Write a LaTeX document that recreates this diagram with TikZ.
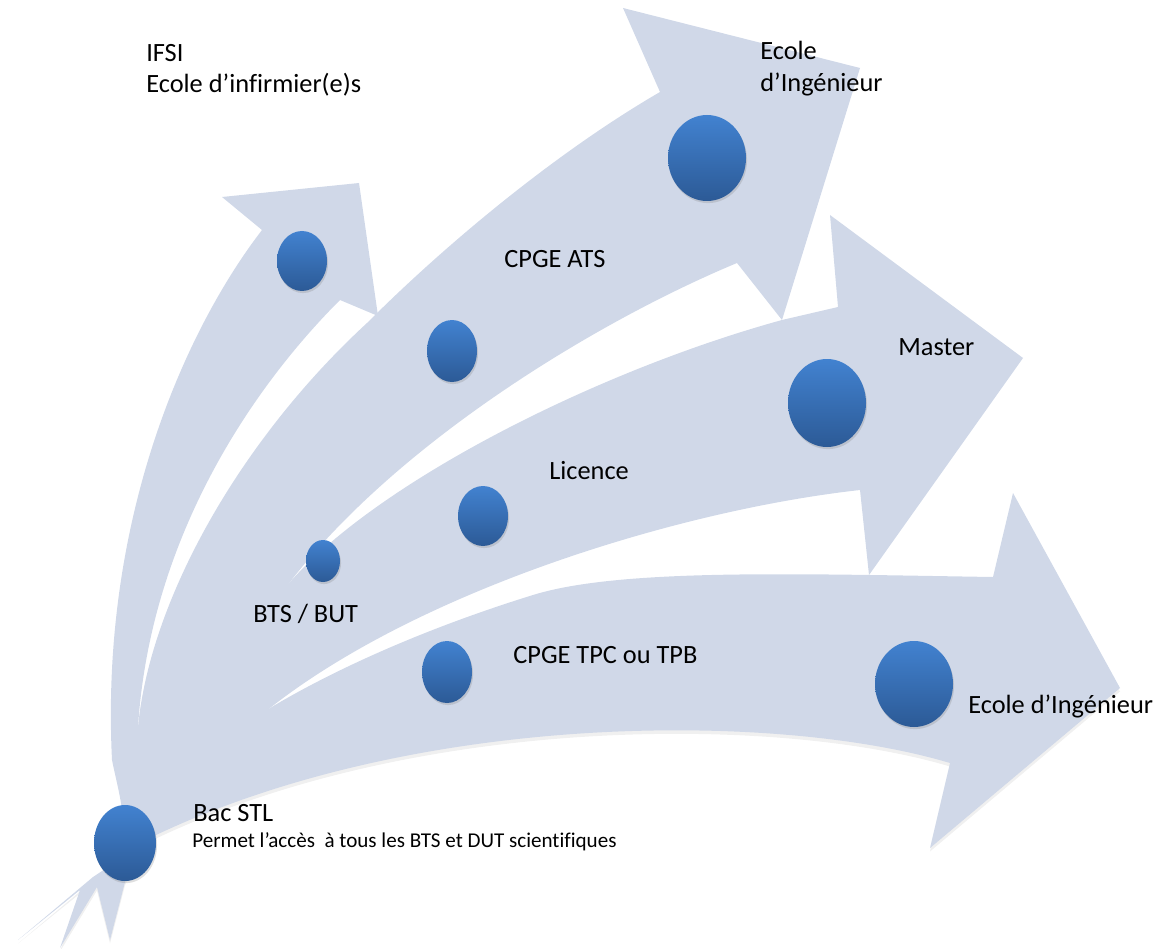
\documentclass[tikz,border=0pt]{standalone}
\usepackage{fontspec}
\setmainfont{Carlito}[Ligatures=NoCommon]
\usepackage{tikz}
\usetikzlibrary{shapes.geometric,shadows,positioning}

\definecolor{flechebleu}{RGB}{208,216,232}
\definecolor{bouletop}{RGB}{66,130,208}
\definecolor{bouleba}{RGB}{44,90,150}

\begin{document}
\begin{tikzpicture}[
    x=0.02cm, y=-0.02cm,
    font=\fontsize{15}{18}\selectfont,
    fleche/.style={
		fill=flechebleu
	},
    boule/.style 2 args={
		ellipse,
		minimum width=#1*0.02cm,
		minimum height=#2*0.02cm,
		inner sep=0pt,
		top color=bouletop,
		bottom color=bouleba,
		drop shadow={opacity=0.25, shadow xshift=0.6pt, shadow yshift=-1.2pt}
	},
    etiquette/.style={
		anchor=base west,
		inner sep=0pt
	},
    petit/.style={
		etiquette,
		font=\fontsize{12}{14}\selectfont
	}
  ]
  \useasboundingbox (0,0) rectangle (1162,949);

  % the four arrows, lowest first
  \fill[fleche, drop shadow={opacity=0.12, shadow xshift=0pt, shadow yshift=-2pt}]
    (140,850) .. controls (180,780) and (220,740) .. (270,708)
    .. controls (330,672) and (420,630) .. (533,595)
    .. controls (620,568) and (800,574) .. (993,577)
    -- (1013,493) -- (1120,688) -- (930,848) -- (950,763)
    .. controls (780,712) and (420,710) .. (156,835)
    -- (93,877) -- (18,940) -- (80,890) -- (60,948) -- (97,887) -- (110,940) -- (125,882) -- cycle;

  \fill[fleche]
    (130,860) .. controls (170,740) and (220,640) .. (290,582)
    .. controls (380,480) and (600,370) .. (782,320)
    -- (838,307) -- (830,215) -- (1023,358) -- (869,575) -- (860,490)
    .. controls (680,510) and (420,590) .. (270,708)
    .. controls (210,760) and (170,810) .. (140,860) -- cycle;

  \fill[fleche]
    (115,860) .. controls (125,810) and (132,770) .. (138,727)
    .. controls (150,600) and (240,440) .. (367,323)
    .. controls (450,240) and (560,150) .. (660,92)
    -- (623,8) -- (860,68) -- (782,320) -- (737,263)
    .. controls (600,320) and (400,440) .. (290,582)
    .. controls (220,670) and (170,770) .. (145,860) -- cycle;

  \fill[fleche]
    (122,860) .. controls (128,820) and (118,790) .. (112,760)
    .. controls (100,520) and (185,330) .. (262,230)
    -- (222,197) -- (359,183) -- (378,316) -- (340,300)
    .. controls (250,390) and (150,540) .. (138,727)
    .. controls (140,780) and (145,820) .. (150,860) -- cycle;

  % the dots
  \node[boule={62}{76}] (bac) at (125,843) {};
  \node[boule={50}{60}] (ifsi) at (302,261) {};
  \node[boule={34}{42}] (bts) at (323,561) {};
  \node[boule={50}{62}] (ats) at (452,351) {};
  \node[boule={50}{60}] (licence) at (483,516) {};
  \node[boule={50}{62}] (tpc) at (447,672) {};
  \node[boule={78}{86}] (ingehaut) at (707,158) {};
  \node[boule={78}{88}] (master) at (827,403) {};
  \node[boule={78}{86}] (ingebas) at (914,684) {};

  % the texts
  \node[etiquette] (tifsi) at (146,62) {IFSI};
  \node[etiquette] (tinfirmier) at (146,93) {Ecole d’infirmier(e)s};
  \node[etiquette] (tecole) at (760,60) {Ecole};
  \node[etiquette] (tingehaut) at (760,92) {d’Ingénieur};
  \node[etiquette] (tats) at (504,268) {CPGE ATS};
  \node[etiquette] (tmaster) at (898,356) {Master};
  \node[etiquette] (tlicence) at (549,479) {Licence};
  \node[etiquette] (tbts) at (253,622) {BTS / BUT};
  \node[etiquette] (ttpc) at (513,663) {CPGE TPC ou TPB};
  \node[etiquette] (tingebas) at (968,713) {Ecole d’Ingénieur};
  \node[etiquette] (tbac) at (193,821) {Bac STL};
  \node[petit] (tacces) at (192,847) {Permet l’accès~ à tous les BTS et DUT scientifiques};

\end{tikzpicture}
\end{document}
